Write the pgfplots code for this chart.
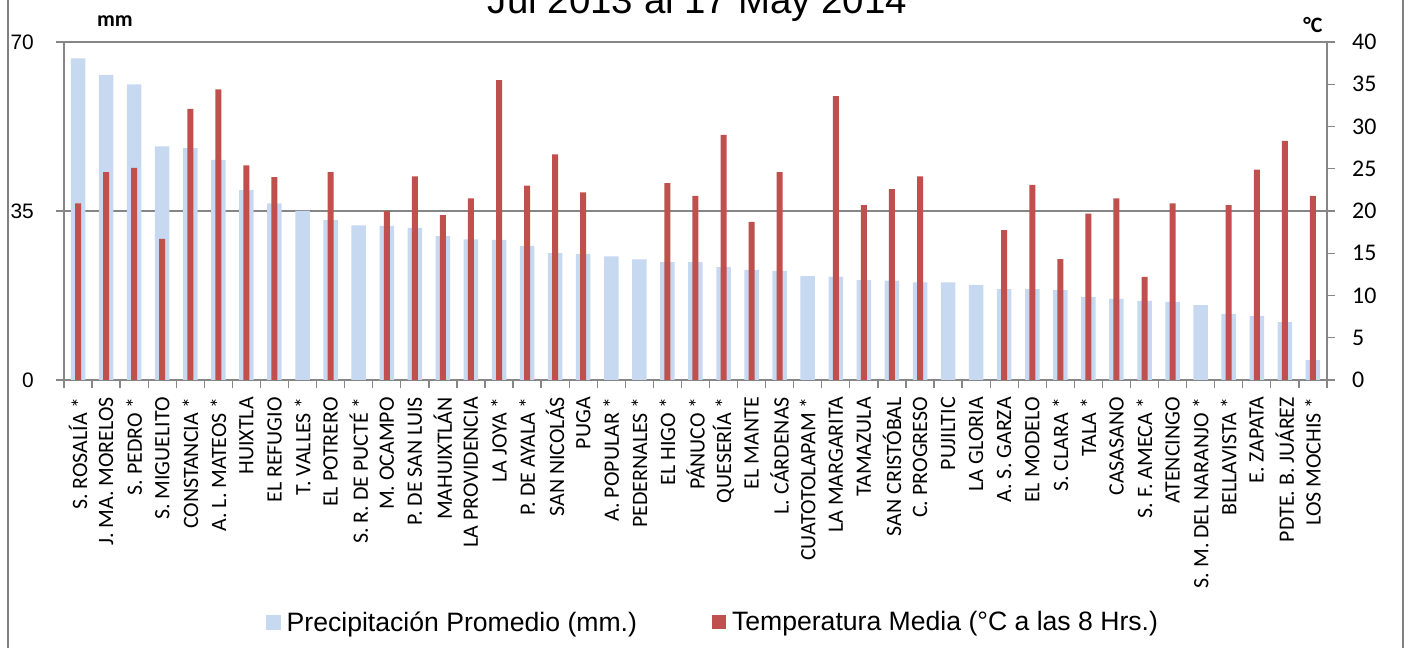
\documentclass[border=0pt]{standalone}
\usepackage{fontspec}
\setmainfont{Liberation Sans}
\newfontfamily\carlito{Carlito}
\usepackage{pgfplots}
\usepackage{pgfplotstable}
\pgfplotsset{compat=1.18}
\definecolor{precipc}{HTML}{C6D9F1}
\definecolor{tempc}{HTML}{C0504D}
\definecolor{axgray}{HTML}{868686}
\definecolor{bordergray}{HTML}{808080}

\pgfplotstableread{
x y
0 66.6
1 63.2
2 61.2
3 48.4
4 48.0
5 45.6
6 39.3
7 36.6
8 35.0
9 33.1
10 32.0
11 31.9
12 31.5
13 29.8
14 29.1
15 29.0
16 27.8
17 26.3
18 26.1
19 25.6
20 25.0
21 24.4
22 24.4
23 23.4
24 22.8
25 22.6
26 21.5
27 21.4
28 20.7
29 20.6
30 20.2
31 20.2
32 19.7
33 18.8
34 18.8
35 18.6
36 17.2
37 16.8
38 16.4
39 16.2
40 15.5
41 13.7
42 13.3
43 12.0
44 4.1
}\precipdata

\pgfplotstableread{
x y
0 20.9
1 24.6
2 25.1
3 16.7
4 32.1
5 34.4
6 25.4
7 24.0
9 24.6
11 20.0
12 24.1
13 19.5
14 21.5
15 35.5
16 23.0
17 26.7
18 22.2
21 23.3
22 21.8
23 29.0
24 18.7
25 24.6
27 33.6
28 20.7
29 22.6
30 24.1
33 17.75
34 23.1
35 14.3
36 19.7
37 21.5
38 12.2
39 20.9
41 20.7
42 24.9
43 28.3
44 21.8
}\tempdata

\begin{document}
\begin{tikzpicture}
\path[use as bounding box] (0,0) rectangle (1408bp,648bp);
\draw[bordergray, line width=2bp] (8bp,0) -- (8bp,648bp);
\draw[bordergray, line width=2bp] (1403bp,0) -- (1403bp,648bp);
\node[anchor=base, font=\fontsize{38.6}{44}\selectfont] at (697.5bp,634bp) {Jul 2013 al 17 May 2014};
\node[anchor=base, font=\carlito\bfseries\fontsize{22}{26}\selectfont] at (115bp,621bp) {mm};
\node[anchor=base, font=\carlito\bfseries\fontsize{22}{26}\selectfont] at (1313bp,615bp) {°C};

\begin{axis}[
  at={(64bp,268bp)}, anchor=south west,
  scale only axis, width=1263bp, height=338bp,
  xmin=-0.5, xmax=44.5, ymin=0, ymax=70,
  axis x line*=bottom, axis y line*=left,
  axis line style={axgray, line width=1.5bp, -},
  ytick={0,35,70},
  ymajorgrids, grid style={axgray, line width=1.5bp},
  tick align=outside, major tick length=8bp,
  tick style={axgray, line width=1.3bp},
  xtick={-0.5,0.5,...,44.5}, xticklabels={},
  extra x ticks={0,...,44},
  extra x tick style={major tick length=0pt, tick style={draw=none}},
  extra x tick labels={S. ROSALÍA *, J. MA. MORELOS, S. PEDRO *, S. MIGUELITO, CONSTANCIA *, A. L. MATEOS *, HUIXTLA, EL REFUGIO, T. VALLES *, EL POTRERO, S. R. DE PUCTÉ *, M. OCAMPO, P. DE SAN LUIS, MAHUIXTLÁN, LA PROVIDENCIA, LA JOYA *, P. DE AYALA *, SAN NICOLÁS, PUGA, A. POPULAR *, PEDERNALES *, EL HIGO *, PÁNUCO *, QUESERÍA *, EL MANTE, L. CÁRDENAS, CUATOTOLAPAM *, LA MARGARITA, TAMAZULA, SAN CRISTÓBAL, C. PROGRESO, PUJILTIC, LA GLORIA, A. S. GARZA, EL MODELO, S. CLARA *, TALA *, CASASANO, S. F. AMECA *, ATENCINGO, S. M. DEL NARANJO *, BELLAVISTA *, E. ZAPATA, PDTE. B. JUÁREZ, LOS MOCHIS *},
  xticklabel style={rotate=90, anchor=east, inner xsep=17bp, inner ysep=0pt, font=\carlito\fontsize{22}{26}\selectfont},
  yticklabel style={font=\fontsize{21}{24}\selectfont, anchor=east, inner sep=0pt, xshift=-22bp},
  /pgf/number format/assume math mode=true,
  ybar, bar width=14.5bp,
]
\addplot[fill=precipc, draw=none] table {\precipdata};
\end{axis}

\begin{axis}[
  at={(64bp,268bp)}, anchor=south west,
  scale only axis, width=1263bp, height=338bp,
  xmin=-0.5, xmax=44.5, ymin=0, ymax=40,
  axis x line=none, axis y line*=right,
  axis line style={axgray, line width=1.5bp, -},
  ytick={0,5,...,40},
  tick align=outside, major tick length=8bp,
  tick style={axgray, line width=1.3bp},
  yticklabel style={font=\carlito\fontsize{24}{28}\selectfont, anchor=west, inner sep=0pt, xshift=17bp},
  /pgf/number format/assume math mode=true,
  ybar, bar width=6bp,
  legend columns=2,
  legend style={at={(0.514,-0.716)}, anchor=center, draw=none, fill=none,
    font=\fontsize{26.7}{30}\selectfont,
    nodes={inner xsep=2bp, inner ysep=1bp},
    /tikz/every odd column/.append style={column sep=4bp},
    /tikz/every even column/.append style={column sep=73bp}},
]
\addlegendimage{legend image code/.code={\fill[precipc] (0bp,-7bp) rectangle (14bp,7bp);}}
\addlegendentry{Precipitación Promedio (mm.)}
\addplot[fill=tempc, draw=none, legend image code/.code={\fill[tempc] (0bp,-7bp) rectangle (14bp,7bp);}] table {\tempdata};
\addlegendentry{Temperatura Media (°C a las 8 Hrs.)}
\end{axis}
\end{tikzpicture}
\end{document}
